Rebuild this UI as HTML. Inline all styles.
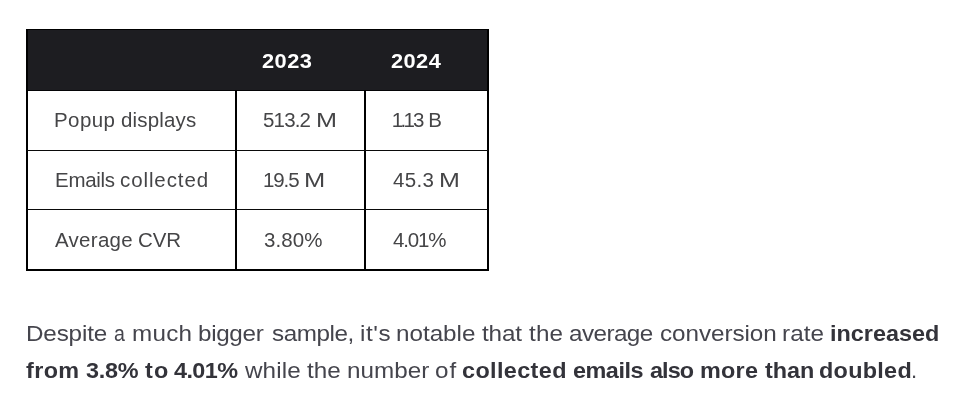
<!DOCTYPE html>
<html lang="en">
<head>
<meta charset="utf-8">
<title>Popup statistics 2023 vs 2024</title>
<style>
html,body{margin:0;padding:0;background:#fff;}
body{width:980px;height:406px;position:relative;overflow:hidden;font-family:"Liberation Sans",sans-serif;}
.tbl{position:absolute;left:26px;top:29px;width:463px;height:242px;box-sizing:border-box;border:2px solid #000;background:transparent;}
.hd{position:absolute;left:28px;top:30px;width:459px;height:60.5px;background:#1d1d21;border-bottom:1px solid #050507;box-sizing:border-box;}
.v{position:absolute;top:90px;height:180px;width:2px;background:#000;}
.hl{position:absolute;left:27px;width:461px;height:1.2px;background:#0a0a0a;}
i{font-style:normal}
p{margin:0}
span{position:absolute;white-space:nowrap;line-height:1;transform-origin:0 0;display:block;}
.h{font-size:20px;font-weight:700;color:#fff;}
.t{font-size:20.5px;font-weight:400;color:#454547;}
.p{font-size:22px;font-weight:400;color:#45454d;}
.b{font-size:22px;font-weight:700;color:#33333a;}
</style>
</head>
<body>
<div class="tbl"></div>
<div class="hd"></div>
<div class="v" style="left:235px"></div>
<div class="v" style="left:364px"></div>
<div class="hl" style="top:149.8px"></div>
<div class="hl" style="top:208.8px"></div>
<div role="table">
<div role="row">
<div role="columnheader"></div>
<div role="columnheader"><span class="h" style="left:262.48px;top:51px;letter-spacing:0.44px;transform:scaleX(1.0900)">2023</span></div>
<div role="columnheader"><span class="h" style="left:391.48px;top:51px;letter-spacing:0.40px;transform:scaleX(1.0900)">2024</span></div>
</div>
<div role="row">
<div role="cell"><span class="t" style="left:54.45px;top:110px;letter-spacing:0.43px;transform:scaleX(0.9987)">Popup</span> <span class="t" style="left:121.15px;top:110px;letter-spacing:0.17px;transform:scaleX(0.9987)">displays</span></div>
<div role="cell"><span class="t" style="left:263.20px;top:110px;letter-spacing:-0.82px;transform:scaleX(0.9987)">513.2</span> <span class="t" style="left:316.25px;top:110px;transform:scaleX(1.2291)">M</span></div>
<div role="cell"><span class="t" style="left:391.70px;top:110px;transform:scaleX(1.0000)"><i style="letter-spacing:-2.6px">1.</i><i style="letter-spacing:-1.9px">1</i><i style="letter-spacing:-1px">3 </i>B</span></div>
</div>
<div role="row">
<div role="cell"><span class="t" style="left:54.55px;top:170px;letter-spacing:-0.27px;transform:scaleX(0.9987)">Emails</span> <span class="t" style="left:120.20px;top:170px;letter-spacing:0.91px;transform:scaleX(0.9987)">collected</span></div>
<div role="cell"><span class="t" style="left:262.50px;top:170px;letter-spacing:-1.09px;transform:scaleX(0.9987)">19.5</span> <span class="t" style="left:304.42px;top:170px;transform:scaleX(1.2436)">M</span></div>
<div role="cell"><span class="t" style="left:392.90px;top:170px;letter-spacing:0.35px;transform:scaleX(0.9987)">45.3</span> <span class="t" style="left:439.06px;top:170px;transform:scaleX(1.2218)">M</span></div>
</div>
<div role="row">
<div role="cell"><span class="t" style="left:55.40px;top:230px;letter-spacing:0.30px;transform:scaleX(0.9987)">Average</span> <span class="t" style="left:138.30px;top:230px;letter-spacing:-0.10px;transform:scaleX(0.9987)">CVR</span></div>
<div role="cell"><span class="t" style="left:263.85px;top:230px;letter-spacing:0.07px;transform:scaleX(0.9987)">3.80%</span></div>
<div role="cell"><span class="t" style="left:392.90px;top:230px;letter-spacing:-1.12px;transform:scaleX(0.9987)">4.01%</span></div>
</div>
</div>
<p>
<span class="p" style="left:25.87px;top:323px;letter-spacing:-0.15px;transform:scaleX(1.1017)">Despite</span>
<span class="p" style="left:113.61px;top:323px;transform:scaleX(0.8889)">a</span>
<span class="p" style="left:132.15px;top:323px;letter-spacing:0.21px;transform:scaleX(1.1017)">much</span>
<span class="p" style="left:198.25px;top:323px;letter-spacing:-0.30px;transform:scaleX(1.1017)">bigger</span>
<span class="p" style="left:271.97px;top:323px;letter-spacing:-0.38px;transform:scaleX(1.1017)">sample,</span>
<span class="p" style="left:359.65px;top:323px;letter-spacing:0.53px;transform:scaleX(1.1017)">it's</span>
<span class="p" style="left:395.95px;top:323px;letter-spacing:-0.02px;transform:scaleX(1.1017)">notable</span>
<span class="p" style="left:482.12px;top:323px;letter-spacing:-0.10px;transform:scaleX(1.1017)">that</span>
<span class="p" style="left:528.92px;top:323px;letter-spacing:0.14px;transform:scaleX(1.1017)">the</span>
<span class="p" style="left:569.40px;top:323px;letter-spacing:-0.50px;transform:scaleX(1.1017)">average</span>
<span class="p" style="left:659.80px;top:323px;letter-spacing:-0.05px;transform:scaleX(1.1017)">conversion</span>
<span class="p" style="left:781.85px;top:323px;letter-spacing:0.06px;transform:scaleX(1.1017)">rate</span>
<span class="b" style="left:829.50px;top:323px;transform:scaleX(1.0637)">increased</span>
<span class="b" style="left:26.37px;top:360px;letter-spacing:0.35px;transform:scaleX(1.0637)">from</span>
<span class="b" style="left:85.77px;top:360px;letter-spacing:-0.23px;transform:scaleX(1.0637)">3.8%</span>
<span class="b" style="left:145.03px;top:360px;letter-spacing:1.03px;transform:scaleX(1.0637)">to</span>
<span class="b" style="left:173.93px;top:360px;letter-spacing:-0.54px;transform:scaleX(1.0637)">4.01%</span>
<span class="p" style="left:245.00px;top:360px;letter-spacing:0.10px;transform:scaleX(1.1017)">while</span>
<span class="p" style="left:307.32px;top:360px;transform:scaleX(1.1017)">the</span>
<span class="p" style="left:346.75px;top:360px;letter-spacing:0.03px;transform:scaleX(1.1017)">number</span>
<span class="p" style="left:434.80px;top:360px;letter-spacing:0.84px;transform:scaleX(1.1017)">of</span>
<span class="b" style="left:462.30px;top:360px;letter-spacing:0.35px;transform:scaleX(1.0637)">collected</span>
<span class="b" style="left:572.90px;top:360px;letter-spacing:-0.45px;transform:scaleX(1.0637)">emails</span>
<span class="b" style="left:650.20px;top:360px;letter-spacing:-0.85px;transform:scaleX(1.0637)">also</span>
<span class="b" style="left:700.20px;top:360px;letter-spacing:0.23px;transform:scaleX(1.0637)">more</span>
<span class="b" style="left:764.63px;top:360px;letter-spacing:-0.03px;transform:scaleX(1.0637)">than</span>
<span class="b" style="left:818.94px;top:360px;letter-spacing:0.27px;transform:scaleX(1.0637)">doubled</span>
<span class="p" style="left:911.00px;top:360px;transform:scaleX(1.0000)">.</span>
</p>
</body>
</html>
